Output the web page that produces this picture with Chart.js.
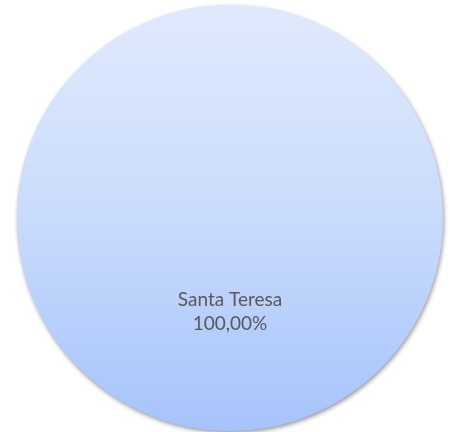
<!DOCTYPE html>
<html>
<head>
<meta charset="utf-8">
<script src="https://cdn.jsdelivr.net/npm/chart.js@4/dist/chart.umd.min.js"></script>
<style>
  html, body { margin: 0; padding: 0; background: #fff; }
  #wrap { width: 450px; height: 432px; }
</style>
</head>
<body>
<div id="wrap"><canvas id="myChart" width="450" height="432"></canvas></div>
<script>
// dados do gráfico
const categorias = ['Santa Teresa'];
const valores = [100];
const rotulos = ['100,00%'];

// gradiente vertical do setor
function gradiente(context) {
    const chart = context.chart;
    const area = chart.chartArea;
    if (!area) return '#c4d7fc';
    const g = chart.ctx.createLinearGradient(0, area.top, 0, area.bottom);
    g.addColorStop(0, '#e0eafd');
    g.addColorStop(0.5, '#c9dbfc');
    g.addColorStop(1, '#a6c3fb');
    return g;
}

// sombra por baixo da pizza
const sombra = {
    id: 'sombra',
    beforeDatasetDraw(chart) {
        const c = chart.ctx;
        c.save();
        c.shadowColor = 'rgba(0,0,0,0.4)';
        c.shadowBlur = 4;
        c.shadowOffsetX = 1;
        c.shadowOffsetY = 2;
    },
    afterDatasetDraw(chart) {
        chart.ctx.restore();
    }
};

// rótulos dentro do setor
const rotulosPlugin = {
    id: 'rotulos',
    afterDatasetsDraw(chart) {
        const c = chart.ctx;
        const meta = chart.getDatasetMeta(0);
        c.save();
        c.fillStyle = '#595959';
        c.font = '19px Lato';
        c.textAlign = 'center';
        c.textBaseline = 'alphabetic';
        meta.data.forEach((arc, i) => {
            const x = arc.x;
            const y = arc.y + 88;
            c.fillText(categorias[i], x, y);
            c.fillText(rotulos[i], x, y + 24);
        });
        c.restore();
    }
};

const ctx = document.getElementById('myChart').getContext('2d');
const myChart = new Chart(ctx, {
    type: 'pie',
    data: {
        labels: categorias,
        datasets: [{
            data: valores,
            backgroundColor: gradiente,
            borderWidth: 0
        }]
    },
    options: {
        responsive: false,
        animation: false,
        layout: { padding: { left: 17, right: 7, top: 5, bottom: 1 } },
        plugins: {
            legend: { display: false },
            tooltip: { enabled: false }
        }
    },
    plugins: [sombra, rotulosPlugin]
});
</script>
</body>
</html>
